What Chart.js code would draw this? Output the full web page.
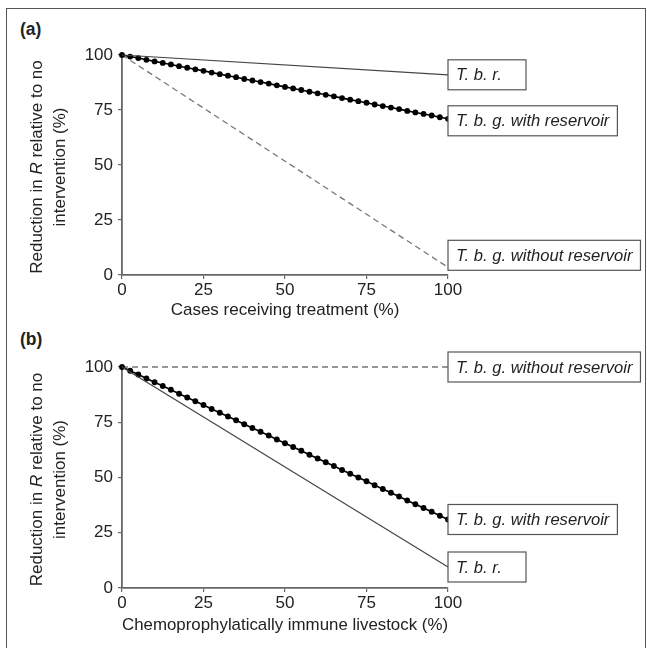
<!DOCTYPE html>
<html>
<head>
<meta charset="utf-8">
<script src="https://cdn.jsdelivr.net/npm/chart.js@4.4.1/dist/chart.umd.min.js"></script>
<style>
  body { margin: 0; background: #fff; width: 647px; height: 648px; overflow: hidden; position: relative; font-family: 'Liberation Sans', Arial, sans-serif; }
  #frame { position: absolute; left: 6px; top: 8px; width: 640px; height: 660px; border: 1.5px solid #555; box-sizing: border-box; }
  .panel { position: absolute; left: 0; width: 647px; }
  .tag { position: absolute; left: 20px; font-weight: bold; font-size: 17.5px; color: #222; }
</style>
</head>
<body>
<div id="frame"></div>
<div class="tag" style="top:19px">(a)</div>
<div class="tag" style="top:329px">(b)</div>
<div class="panel" style="top:0;height:322px"><canvas id="chartA"></canvas></div>
<div class="panel" style="top:322px;height:326px"><canvas id="chartB"></canvas></div>
<script>
// x positions of the model runs (% of cases / livestock)
const dotX = [0, 2.5, 5, 7.5, 10, 12.5, 15, 17.5, 20, 22.5, 25, 27.5, 30, 32.5, 35, 37.5, 40,
  42.5, 45, 47.5, 50, 52.5, 55, 57.5, 60, 62.5, 65, 67.5, 70, 72.5, 75, 77.5, 80, 82.5, 85,
  87.5, 90, 92.5, 95, 97.5, 100];
const endX = [0, 100];
const xTicks = [0, 25, 50, 75, 100];
const yTicks = [0, 25, 50, 75, 100];

// panel (a): treatment of cases
const aTbr = [100, 91];
const aWithRes = [100, 99.3, 98.6, 97.8, 97.1, 96.4, 95.7, 94.9, 94.2, 93.5, 92.8, 92.0, 91.3,
  90.6, 89.9, 89.1, 88.4, 87.7, 87.0, 86.2, 85.5, 84.8, 84.1, 83.3, 82.6, 81.9, 81.2, 80.4,
  79.7, 79.0, 78.3, 77.5, 76.8, 76.1, 75.4, 74.6, 73.9, 73.2, 72.5, 71.7, 71.0];
const aWithoutRes = [100, 3.5];

// panel (b): chemoprophylaxis of livestock
const bTbr = [100, 9.5];
const bWithRes = [100, 98.3, 96.6, 94.8, 93.1, 91.4, 89.7, 87.9, 86.2, 84.5, 82.8, 81.0, 79.3,
  77.6, 75.9, 74.1, 72.4, 70.7, 69.0, 67.2, 65.5, 63.8, 62.1, 60.3, 58.6, 56.9, 55.2, 53.4,
  51.7, 50.0, 48.3, 46.5, 44.8, 43.1, 41.4, 39.6, 37.9, 36.2, 34.5, 32.7, 31.0];
const bWithoutRes = [100, 100];

const names = ['T. b. r.', 'T. b. g. with reservoir', 'T. b. g. without reservoir'];

const FONT = "'Liberation Sans', Arial, sans-serif";
const AXIS = '#666';
const TXT = '#222';

function pts(xs, ys) {
  return ys.map((y, i) => ({ x: xs[i], y: y }));
}

function datasets(tbr, withRes, withoutRes) {
  return [
    { label: names[0], data: pts(endX, tbr), borderColor: '#444', borderWidth: 1.2, pointRadius: 0 },
    { label: names[1], data: pts(dotX, withRes), borderColor: '#000', borderWidth: 1.6,
      pointRadius: 2.9, pointBackgroundColor: '#000', pointBorderWidth: 0 },
    { label: names[2], data: pts(endX, withoutRes), borderColor: '#777', borderWidth: 1.3,
      borderDash: [6, 4], pointRadius: 0 },
  ];
}

// boxed labels at the right-hand end of each line
const endLabels = {
  id: 'endLabels',
  afterDatasetsDraw(chart, args, opts) {
    const ctx = chart.ctx;
    const xs = chart.scales.x, ys = chart.scales.y;
    ctx.save();
    ctx.font = 'italic 16.6px ' + FONT;
    ctx.textBaseline = 'middle';
    chart.data.datasets.forEach((ds, i) => {
      const last = ds.data[ds.data.length - 1];
      const px = xs.getPixelForValue(last.x);
      const py = ys.getPixelForValue(last.y) + (opts.shift[i] || 0);
      const w = Math.max(78, ctx.measureText(ds.label).width + 16);
      const h = 30;
      ctx.fillStyle = '#fff';
      ctx.fillRect(px, py - h / 2, w, h);
      ctx.strokeStyle = '#555';
      ctx.lineWidth = 1.2;
      ctx.strokeRect(px, py - h / 2, w, h);
      ctx.fillStyle = TXT;
      ctx.fillText(ds.label, px + 8, py + 1);
    });
    ctx.restore();
  }
};

// y-axis title with italic R
const yTitle = {
  id: 'yTitle',
  afterDraw(chart) {
    const ctx = chart.ctx;
    const a = chart.chartArea;
    const cy = (a.top + a.bottom) / 2;
    const size = '17px ';
    ctx.save();
    ctx.fillStyle = TXT;
    ctx.textBaseline = 'middle';
    ctx.translate(37, cy + 2);
    ctx.rotate(-Math.PI / 2);
    const parts = [['Reduction in ', ''], ['R', 'italic '], [' relative to no', '']];
    let total = 0;
    parts.forEach(p => { ctx.font = p[1] + size + FONT; total += ctx.measureText(p[0]).width; });
    let x = -total / 2;
    parts.forEach(p => {
      ctx.font = p[1] + size + FONT;
      ctx.fillText(p[0], x, 0);
      x += ctx.measureText(p[0]).width;
    });
    ctx.font = size + FONT;
    ctx.textAlign = 'center';
    ctx.fillText('intervention (%)', 0, 23);
    ctx.restore();
  }
};

function makeChart(id, dsets, xTitle, xHeight, pad, shift) {
  return new Chart(document.getElementById(id), {
    type: 'line',
    data: { datasets: dsets },
    options: {
      responsive: true,
      maintainAspectRatio: false,
      animation: false,
      clip: false,
      layout: { padding: pad },
      plugins: {
        legend: { display: false },
        tooltip: { enabled: false },
        endLabels: { shift: shift },
      },
      scales: {
        x: {
          type: 'linear', min: 0, max: 100,
          afterBuildTicks: s => { s.ticks = xTicks.map(v => ({ value: v })); },
          afterFit: s => { s.height = xHeight; },
          grid: { drawOnChartArea: false, drawTicks: true, tickLength: 4, color: AXIS, lineWidth: 1.2 },
          border: { display: true, color: AXIS, width: 1.8 },
          ticks: { color: TXT, padding: 1, maxRotation: 0, font: { family: FONT, size: 17 } },
          title: { display: true, text: xTitle, color: TXT, padding: 0, font: { family: FONT, size: 17 } },
        },
        y: {
          min: 0, max: 100,
          afterBuildTicks: s => { s.ticks = yTicks.map(v => ({ value: v })); },
          afterFit: s => { s.width = 72; },
          grid: { drawOnChartArea: false, drawTicks: true, tickLength: 4, color: AXIS, lineWidth: 1.2 },
          border: { display: true, color: AXIS, width: 1.8 },
          ticks: { color: TXT, padding: 5, font: { family: FONT, size: 17 } },
        },
      },
    },
    plugins: [endLabels, yTitle],
  });
}

makeChart('chartA', datasets(aTbr, aWithRes, aWithoutRes), 'Cases receiving treatment (%)',
  46, { left: 50, right: 199, top: 55, bottom: 1 }, [0, 2, -12]);
makeChart('chartB', datasets(bTbr, bWithRes, bWithoutRes), 'Chemoprophylatically immune livestock (%)',
  48, { left: 50, right: 199, top: 45, bottom: 12 }, [0, 0, 0]);
</script>
</body>
</html>
